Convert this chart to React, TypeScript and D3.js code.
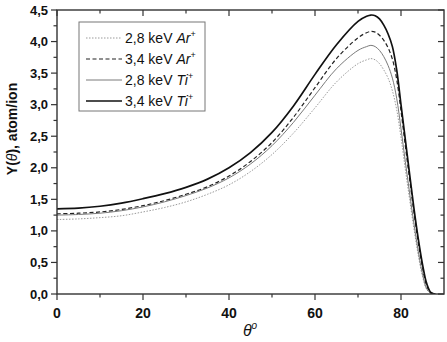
import { useMemo } from "react";
import { scaleLinear, line, curveCatmullRom, range } from "d3";

// sputtering yield vs. incidence angle
const theta = [0, 5, 10, 15, 20, 25, 30, 35, 40, 45, 50, 55, 60, 65, 70, 72, 73, 74, 75, 76, 77, 78, 79, 80, 81, 82, 83, 84, 85, 86, 87, 88];

const ar28 = [1.18, 1.19, 1.21, 1.24, 1.3, 1.37, 1.46, 1.58, 1.73, 1.94, 2.21, 2.55, 2.95, 3.36, 3.65, 3.71, 3.73, 3.71, 3.65, 3.55, 3.42, 3.22, 2.92, 2.48, 1.98, 1.5, 1.04, 0.62, 0.28, 0.07, 0.01, 0];
const ar34 = [1.27, 1.28, 1.3, 1.34, 1.4, 1.48, 1.58, 1.7, 1.87, 2.1, 2.4, 2.8, 3.27, 3.73, 4.06, 4.14, 4.16, 4.15, 4.1, 4.02, 3.9, 3.72, 3.4, 2.9, 2.35, 1.82, 1.3, 0.82, 0.42, 0.13, 0.02, 0];
const ti28 = [1.25, 1.26, 1.28, 1.32, 1.38, 1.46, 1.56, 1.68, 1.84, 2.06, 2.35, 2.72, 3.15, 3.57, 3.86, 3.92, 3.94, 3.92, 3.86, 3.76, 3.62, 3.42, 3.1, 2.62, 2.1, 1.6, 1.12, 0.68, 0.32, 0.08, 0.01, 0];
const ti34 = [1.35, 1.36, 1.39, 1.44, 1.51, 1.59, 1.69, 1.82, 2.0, 2.24, 2.56, 2.98, 3.48, 3.95, 4.32, 4.4, 4.42, 4.41, 4.36, 4.26, 4.12, 3.92, 3.55, 3.0, 2.45, 1.9, 1.36, 0.88, 0.47, 0.16, 0.02, 0];

const series = [
    { energy: "2,8", ion: "Ar", values: ar28, stroke: "#9a9a9a", width: 1, dash: "1.5,1.5" },
    { energy: "3,4", ion: "Ar", values: ar34, stroke: "#222", width: 1.2, dash: "4,2.5" },
    { energy: "2,8", ion: "Ti", values: ti28, stroke: "#7a7a7a", width: 1, dash: null },
    { energy: "3,4", ion: "Ti", values: ti34, stroke: "#111", width: 1.7, dash: null },
];

const xMajor = [0, 20, 40, 60, 80];
const xMinor = [10, 30, 50, 70];

const W = 447;
const H = 342;
const fontFamily = "'Liberation Sans', Arial, sans-serif";

export default function App() {
    const x = scaleLinear().domain([0, 90]).range([57, 444]);
    const y = scaleLinear().domain([0, 4.5]).range([294, 10]);

    const yMajor = range(0, 4.51, 0.5);
    const yMinor = range(0.25, 4.5, 0.5);
    const fmt = (v: number) => v.toFixed(1).replace(".", ",");

    const paths = useMemo(() => {
        const gen = line<number>()
            .x((_, i) => x(theta[i]))
            .y(d => y(d))
            .curve(curveCatmullRom.alpha(0.5));
        return series.map(s => gen(s.values) || "");
    }, []);

    const [x0, x1] = x.range();
    const [yb, yt] = y.range();
    const axisColor = "#333";

    return (
        <>
            <style>{"body{margin:0}"}</style>
            <svg width={W} height={H} style={{ display: "block", background: "#fff" }} fontFamily={fontFamily}>
                <defs>
                    <clipPath id="plot-clip">
                        <rect x={x0} y={yt} width={x1 - x0} height={yb - yt} />
                    </clipPath>
                </defs>
                <g clipPath="url(#plot-clip)">
                    {paths.map((d, i) => (
                        <path
                            key={i}
                            d={d}
                            fill="none"
                            stroke={series[i].stroke}
                            strokeWidth={series[i].width}
                            strokeDasharray={series[i].dash || undefined}
                        />
                    ))}
                </g>

                {/* frame */}
                <rect x={x0} y={yt} width={x1 - x0} height={yb - yt} fill="none" stroke={axisColor} strokeWidth={1.4} />

                {/* x ticks: out on bottom, in on top */}
                {xMajor.concat(xMinor).map(v => {
                    const len = xMajor.includes(v) ? 6 : 3.5;
                    return (
                        <g key={`xt${v}`} stroke={axisColor} strokeWidth={1.2}>
                            <line x1={x(v)} x2={x(v)} y1={yb} y2={yb + len} />
                            <line x1={x(v)} x2={x(v)} y1={yt} y2={yt + len} />
                        </g>
                    );
                })}
                {xMajor.map(v => (
                    <text key={`xl${v}`} x={x(v)} y={yb + 24} textAnchor="middle" fontSize={14} fontWeight="bold" fill="#111">
                        {v}
                    </text>
                ))}

                {/* y ticks: out on left, in on right */}
                {yMajor.concat(yMinor).map(v => {
                    const major = yMajor.some(m => Math.abs(m - v) < 1e-6);
                    const len = major ? 6 : 3.5;
                    return (
                        <g key={`yt${v}`} stroke={axisColor} strokeWidth={1.2}>
                            <line x1={x0} x2={x0 - len} y1={y(v)} y2={y(v)} />
                            <line x1={x1} x2={x1 - len} y1={y(v)} y2={y(v)} />
                        </g>
                    );
                })}
                {yMajor.map(v => (
                    <text key={`yl${v}`} x={x0 - 9} y={y(v) + 4.5} textAnchor="end" fontSize={13} fontWeight="bold" fill="#111">
                        {fmt(v)}
                    </text>
                ))}

                {/* axis titles */}
                <text x={250} y={336} textAnchor="middle" fontSize={16} fill="#111">
                    <tspan fontStyle="italic">θ</tspan>
                    <tspan fontStyle="italic" fontSize={10} dy={-7}>o</tspan>
                </text>
                <text transform="translate(17,129) rotate(-90)" textAnchor="middle" fontSize={14} fontWeight="bold" fill="#111">
                    <tspan>Y(</tspan>
                    <tspan fontStyle="italic" fontWeight="normal">θ</tspan>
                    <tspan>), atom/ion</tspan>
                </text>

                {/* legend */}
                <rect x={79} y={22} width={126} height={89} fill="#fff" stroke="#777" strokeWidth={1} />
                {series.map((s, i) => {
                    const cy = 38 + i * 21;
                    return (
                        <g key={`lg${i}`}>
                            <line
                                x1={86}
                                x2={122}
                                y1={cy}
                                y2={cy}
                                stroke={s.stroke}
                                strokeWidth={s.width}
                                strokeDasharray={s.dash || undefined}
                            />
                            <text x={125} y={cy + 5} fontSize={14} fill="#111">
                                {s.energy} keV{" "}
                                <tspan fontStyle="italic">{s.ion}</tspan>
                                <tspan fontSize={9} dy={-6}>+</tspan>
                            </text>
                        </g>
                    );
                })}
            </svg>
        </>
    );
}
